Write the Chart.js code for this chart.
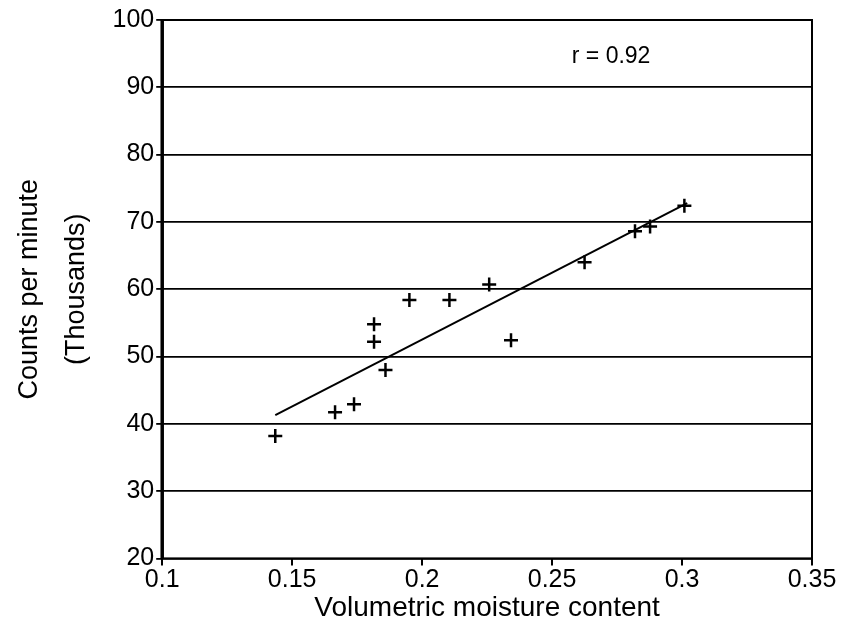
<!DOCTYPE html>
<html>
<head>
<meta charset="utf-8">
<script src="https://cdn.jsdelivr.net/npm/chart.js@4"></script>
<style>
    html, body { margin: 0; padding: 0; background: #ffffff; }
    #wrap { width: 846px; height: 628px; }
</style>
</head>
<body>
<div id="wrap"><canvas id="moistureChart"></canvas></div>
<script>
// volumetric moisture content vs counts per minute (thousands)
const moisture = [0.1435, 0.1665, 0.1738, 0.1815, 0.1815, 0.1859, 0.1951, 0.2105, 0.2258, 0.2342, 0.2625, 0.2819, 0.2877, 0.3009];
const counts = [38.2, 41.7, 42.9, 54.8, 52.2, 48.0, 58.4, 58.4, 60.7, 52.4, 64.0, 68.6, 69.3, 72.4];

// regression line end points
const fitX = [0.1435, 0.302];
const fitY = [41.3, 72.8];

const rLabel = 'r = 0.92';

const FONT = '"Liberation Sans", Arial, sans-serif';

const framePlugin = {
    id: 'frame',
    afterDraw: function (chart) {
        const ctx = chart.ctx;
        const a = chart.chartArea;
        ctx.save();
        ctx.strokeStyle = '#000000';
        ctx.lineWidth = 2;
        ctx.strokeRect(a.left, a.top, a.right - a.left, a.bottom - a.top);
        ctx.lineWidth = 3.5;
        ctx.beginPath();
        ctx.moveTo(a.left, a.top);
        ctx.lineTo(a.left, a.bottom);
        ctx.stroke();
        ctx.fillStyle = '#000000';
        ctx.font = '23px ' + FONT;
        ctx.textAlign = 'center';
        ctx.textBaseline = 'middle';
        ctx.fillText(rLabel, chart.scales.x.getPixelForValue(0.2727), chart.scales.y.getPixelForValue(94.5));
        ctx.restore();
    }
};

document.addEventListener('DOMContentLoaded', function () {
    const canvas = document.getElementById('moistureChart');

    new Chart(canvas, {
        data: {
            datasets: [
                {
                    type: 'scatter',
                    data: moisture.map(function (x, i) { return { x: x, y: counts[i] }; }),
                    pointStyle: 'cross',
                    pointRadius: 7,
                    pointBorderWidth: 2.5,
                    borderColor: '#000000',
                    backgroundColor: '#000000'
                },
                {
                    type: 'line',
                    data: fitX.map(function (x, i) { return { x: x, y: fitY[i] }; }),
                    borderColor: '#000000',
                    borderWidth: 2,
                    pointRadius: 0,
                    fill: false
                }
            ]
        },
        options: {
            responsive: true,
            maintainAspectRatio: false,
            animation: false,
            layout: {
                padding: { left: 6, right: 34, top: 20, bottom: 6 }
            },
            plugins: {
                legend: { display: false },
                tooltip: { enabled: false }
            },
            scales: {
                x: {
                    type: 'linear',
                    min: 0.1,
                    max: 0.35,
                    border: { display: false },
                    grid: {
                        drawOnChartArea: false,
                        drawTicks: true,
                        tickLength: 7,
                        color: '#000000',
                        lineWidth: 2
                    },
                    ticks: {
                        stepSize: 0.05,
                        padding: 0,
                        color: '#000000',
                        font: { family: FONT, size: 25 },
                        callback: function (value) {
                            return String(Number(value.toFixed(2)));
                        }
                    },
                    title: {
                        display: true,
                        text: 'Volumetric moisture content',
                        color: '#000000',
                        font: { family: FONT, size: 28, lineHeight: 0.95 },
                        padding: { top: 0, bottom: 0 }
                    }
                },
                y: {
                    type: 'linear',
                    min: 20,
                    max: 100,
                    border: { display: false },
                    grid: {
                        color: '#000000',
                        lineWidth: 1.8,
                        tickLength: 6
                    },
                    ticks: {
                        stepSize: 10,
                        padding: 2,
                        color: '#000000',
                        font: { family: FONT, size: 25 }
                    },
                    title: {
                        display: true,
                        text: ['Counts per minute', '(Thousands)'],
                        color: '#000000',
                        font: { family: FONT, size: 27, lineHeight: 1.75 },
                        padding: { top: 0, bottom: 10 }
                    }
                }
            }
        },
        plugins: [framePlugin]
    });
});
</script>
</body>
</html>
